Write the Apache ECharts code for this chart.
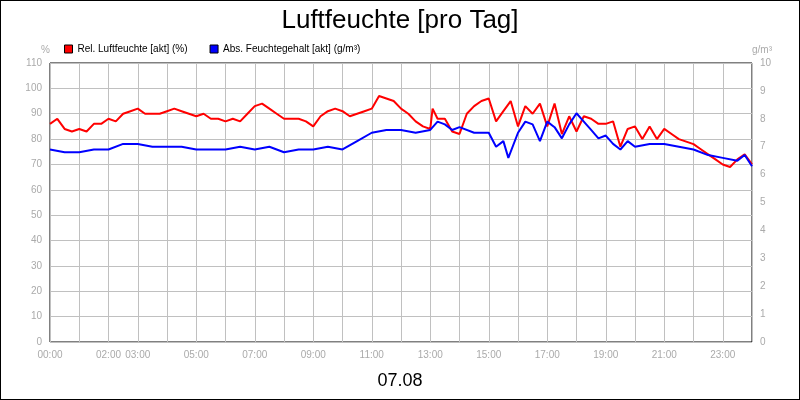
<!DOCTYPE html>
<html>
<head>
    <meta charset="UTF-8">
    <title></title>
    <script type="text/javascript" src="https://cdn.jsdelivr.net/npm/echarts@6/dist/echarts.min.js"></script>
    <style>
        body { margin: 0; }
        #chart { width: 798px; height: 398px; border: 1px solid #000; background: #fff; }
    </style>
</head>
<body>
<div id="chart"></div>
<script>
    // hours of day
    var relTime = [0, 0.25, 0.5, 0.75, 1, 1.25, 1.5, 1.75, 2, 2.25, 2.5, 2.75, 3, 3.25, 3.5, 3.75, 4, 4.25, 4.5, 4.75,
        5, 5.25, 5.5, 5.75, 6, 6.25, 6.5, 6.75, 7, 7.25, 7.5, 7.75, 8, 8.25, 8.5, 8.75, 9, 9.25, 9.5, 9.75,
        10, 10.25, 10.5, 10.75, 11, 11.25, 11.5, 11.75, 12, 12.25, 12.5, 12.75, 13, 13.08, 13.25, 13.5, 13.75,
        14, 14.25, 14.5, 14.75, 15, 15.25, 15.5, 15.75, 16, 16.25, 16.5, 16.75, 17, 17.25, 17.5, 17.75,
        18, 18.25, 18.5, 18.75, 19, 19.25, 19.5, 19.75, 20, 20.25, 20.5, 20.75, 21, 21.25, 21.5, 21.75,
        22, 22.25, 22.5, 22.75, 23, 23.25, 23.5, 23.75, 24];
    var relValues = [86, 88, 84, 83, 84, 83, 86, 86, 88, 87, 90, 91, 92, 90, 90, 90, 91, 92, 91, 90,
        89, 90, 88, 88, 87, 88, 87, 90, 93, 94, 92, 90, 88, 88, 88, 87, 85, 89, 91, 92,
        91, 89, 90, 91, 92, 97, 96, 95, 92, 90, 87, 85, 84, 92, 88, 88, 83,
        82, 90, 93, 95, 96, 87, 91, 95, 85, 93, 90, 94, 85, 94, 82, 89,
        83, 89, 88, 86, 86, 87, 77, 84, 85, 80, 85, 80, 84, 82, 80, 79,
        78, 76, 74, 72, 70, 69, 72, 74, 70];
    var absTime = [0, 0.5, 1, 1.5, 2, 2.5, 3, 3.5, 4, 4.5, 5, 5.5, 6, 6.5, 7, 7.5, 8, 8.5, 9, 9.5,
        10, 10.5, 11, 11.5, 12, 12.5, 13, 13.25, 13.5, 13.75, 14, 14.5, 15, 15.25, 15.5, 15.67,
        16, 16.25, 16.5, 16.75, 17, 17.25, 17.5, 17.75, 18, 18.25, 18.5, 18.75, 19, 19.25, 19.5, 19.75,
        20, 20.5, 21, 21.5, 22, 22.5, 23, 23.5, 23.75, 24];
    var absValues = [6.9, 6.8, 6.8, 6.9, 6.9, 7.1, 7.1, 7.0, 7.0, 7.0, 6.9, 6.9, 6.9, 7.0, 6.9, 7.0, 6.8, 6.9, 6.9, 7.0,
        6.9, 7.2, 7.5, 7.6, 7.6, 7.5, 7.6, 7.9, 7.8, 7.6, 7.7, 7.5, 7.5, 7.0, 7.2, 6.6,
        7.5, 7.9, 7.8, 7.2, 7.9, 7.7, 7.3, 7.8, 8.2, 7.9, 7.6, 7.3, 7.4, 7.1, 6.9, 7.2,
        7.0, 7.1, 7.1, 7.0, 6.9, 6.7, 6.6, 6.5, 6.7, 6.3];
    var hourLabels = ['00:00', '02:00', '03:00', '05:00', '07:00', '09:00', '11:00', '13:00', '15:00', '17:00', '19:00', '21:00', '23:00'];

    function pairs(t, v) {
        var out = [];
        for (var i = 0; i < t.length; i++) out.push([t[i], v[i]]);
        return out;
    }
    function pad(h) { return (h < 10 ? '0' : '') + h + ':00'; }

    var myChart = echarts.init(document.getElementById('chart'));
    myChart.setOption({
        animation: false,
        textStyle: {fontFamily: 'Liberation Sans, Arial, sans-serif'},
        title: [
            {text: 'Luftfeuchte [pro Tag]', left: 'center', top: 2,
                textStyle: {fontSize: 26, fontWeight: 'normal', color: '#000'}},
            {text: '07.08', left: 'center', top: 366,
                textStyle: {fontSize: 18, fontWeight: 'normal', color: '#000'}}
        ],
        legend: {
            left: 58, top: 38, itemWidth: 8, itemHeight: 8, itemGap: 22, icon: 'rect',
            textStyle: {fontSize: 10, color: '#000'},
            data: [
                {name: 'Rel. Luftfeuchte [akt] (%)', itemStyle: {color: '#ff0000', borderColor: '#000', borderWidth: 1}},
                {name: 'Abs. Feuchtegehalt [akt] (g/m³)', itemStyle: {color: '#0000ff', borderColor: '#000', borderWidth: 1}}
            ]
        },
        grid: {left: 49, right: 47, top: 62, bottom: 57, show: true, borderColor: '#000', borderWidth: 1},
        xAxis: {
            type: 'value', min: 0, max: 24, interval: 1,
            axisLine: {show: false}, axisTick: {show: false},
            splitLine: {lineStyle: {color: '#c0c0c0'}},
            axisLabel: {color: '#aaa', fontSize: 10, showMaxLabel: false,
                formatter: function (v) {
                    var s = pad(v);
                    return hourLabels.indexOf(s) >= 0 ? s : '';
                }}
        },
        yAxis: [
            {type: 'value', min: 0, max: 110, interval: 10, name: '%', nameGap: 8,
                nameTextStyle: {color: '#aaa', fontSize: 10, align: 'right'},
                axisLine: {show: false}, axisTick: {show: false},
                axisLabel: {color: '#aaa', fontSize: 10},
                splitLine: {lineStyle: {color: '#c0c0c0'}}},
            {type: 'value', min: 0, max: 10, interval: 1, name: 'g/m³', nameGap: 8,
                nameTextStyle: {color: '#aaa', fontSize: 10, align: 'left'},
                axisLine: {show: false}, axisTick: {show: false},
                axisLabel: {color: '#aaa', fontSize: 10},
                splitLine: {show: false}}
        ],
        series: [
            {name: 'Rel. Luftfeuchte [akt] (%)', type: 'line', yAxisIndex: 0, showSymbol: false,
                lineStyle: {color: '#ff0000', width: 2}, itemStyle: {color: '#ff0000'},
                data: pairs(relTime, relValues)},
            {name: 'Abs. Feuchtegehalt [akt] (g/m³)', type: 'line', yAxisIndex: 1, showSymbol: false,
                lineStyle: {color: '#0000ff', width: 2}, itemStyle: {color: '#0000ff'},
                data: pairs(absTime, absValues)}
        ]
    });
</script>
</body>
</html>
